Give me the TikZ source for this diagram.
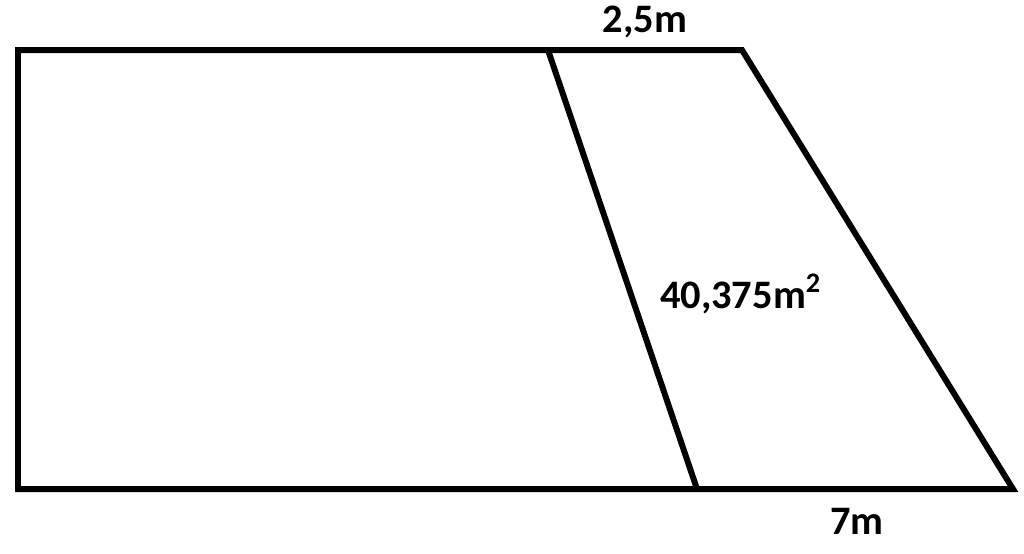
\documentclass[tikz,border=0pt]{standalone}
\usepackage{fontspec}
\setmainfont{Carlito}
\usepackage{tikz}
\usetikzlibrary{positioning}

\tikzset{
  edge/.style={line width=1.7pt, line join=miter, line cap=round},
  lbl/.style={font=\bfseries\fontsize{11.5}{13}\selectfont, inner sep=0pt}
}

\begin{document}
\begin{tikzpicture}[x=0.01cm,y=-0.01cm]
  \useasboundingbox (0,0) rectangle (1024,553);
  \coordinate (tl) at (18,50);
  \coordinate (tm) at (548,50);
  \coordinate (tr) at (742,50);
  \coordinate (br) at (1013,489);
  \coordinate (bm) at (697,489);
  \coordinate (bl) at (18,489);
  \draw[edge] (tl) -- (tr) -- (br) -- (bl) -- cycle;
  \draw[edge] (tm) -- (bm);
  \node[lbl] (top) at (645,22) {2,5m};
  \node[lbl, anchor=base] (area) at (741,308) {40,375m\textsuperscript{2}};
  \node[lbl] (bot) at (857,521) {7m};
\end{tikzpicture}
\end{document}
